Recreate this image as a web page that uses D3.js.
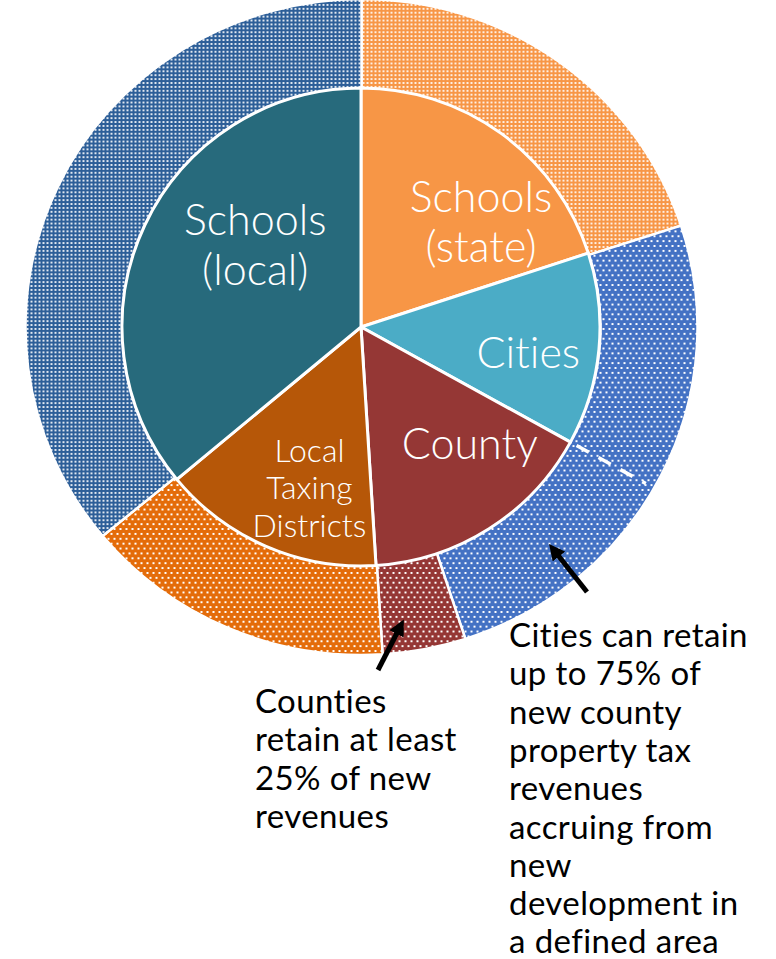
<!DOCTYPE html>
<html>
<head>
<meta charset="utf-8">
<script src="https://cdn.jsdelivr.net/npm/d3@7"></script>
<style>
  body { margin: 0; background: #fff; }
  svg { display: block; }
  text { font-variant-ligatures: none; font-feature-settings: "liga" 0; }
  .slice-label { fill: #fff; font-family: Lato, "Open Sans", sans-serif; font-weight: 300; }
  .note { fill: #000; font-family: Lato, "Open Sans", sans-serif; font-size: 33px; letter-spacing: 0.4px; }
</style>
</head>
<body>
<div id="chart"></div>
<script>
// slices go clockwise from 12 o'clock
var categories = ["Schools (state)", "Cities", "County", "Local Taxing Districts", "Schools (local)"];
// inner pie: share of property tax revenue (%)
var innerValues = [20, 13, 16, 15, 36];
// outer ring: share of new revenues (cities keep up to 75% of county's share)
var outerValues = [20, 25, 4, 15, 36];
var labelLines = [["Schools", "(state)"], ["Cities"], ["County"], ["Local", "Taxing", "Districts"], ["Schools", "(local)"]];
var countyNote = ["Counties", "retain at least", "25% of new", "revenues"];
var citiesNote = ["Cities can retain", "up to 75% of", "new county", "property tax", "revenues", "accruing from", "new", "development in", "a defined area"];

var svgWidth = 776;
var svgHeight = 959;
var cx = 361, cy = 327;
var rPie = 239;
var rRing = 336;

var innerColors = ["#F79646", "#4BACC6", "#953735", "#B65708", "#276A7C"];
var outerColors = ["#F79646", "#4472C4", "#953735", "#E46C0A", "#2C5E98"];
var dense = [true, false, false, false, true];

var svg = d3.select("#chart")
    .append("svg")
    .attr("width", svgWidth)
    .attr("height", svgHeight);

// dotted fills for the outer ring
var defs = svg.append("defs");
outerColors.forEach(function (c, i) {
    var p = defs.append("pattern")
        .attr("id", "pat" + i)
        .attr("patternUnits", "userSpaceOnUse");
    if (dense[i]) {
        p.attr("width", 4).attr("height", 4);
        p.append("rect").attr("width", 4).attr("height", 4).attr("fill", c);
        p.append("rect").attr("x", 1).attr("y", 1).attr("width", 2).attr("height", 2).attr("fill", "#fff").attr("opacity", 0.85);
    } else {
        p.attr("width", 6).attr("height", 10);
        p.append("rect").attr("width", 6).attr("height", 10).attr("fill", c);
        p.append("rect").attr("x", 1).attr("y", 1).attr("width", 2).attr("height", 2).attr("fill", "#fff");
        p.append("rect").attr("x", 4).attr("y", 6).attr("width", 2).attr("height", 2).attr("fill", "#fff");
    }
});

var pie = d3.pie().sort(null).value(function (d) { return d; });
var innerArcs = pie(innerValues);
var outerArcs = pie(outerValues);

// outer ring (slightly squashed vertically like the original)
var ringArc = d3.arc().innerRadius(rPie).outerRadius(rRing);
svg.append("g")
    .attr("transform", "translate(" + (cx + 0.5) + "," + cy + ") scale(1,0.976)")
    .selectAll("path")
    .data(outerArcs)
    .enter()
    .append("path")
    .attr("d", ringArc)
    .attr("fill", function (d, i) { return "url(#pat" + i + ")"; })
    .attr("stroke", "#fff")
    .attr("stroke-width", 2.5);

// inner pie
var pieArc = d3.arc().innerRadius(0).outerRadius(rPie);
var pieG = svg.append("g").attr("transform", "translate(" + cx + "," + cy + ")");
pieG.selectAll("path")
    .data(innerArcs)
    .enter()
    .append("path")
    .attr("d", pieArc)
    .attr("fill", function (d, i) { return innerColors[i]; })
    .attr("stroke", "#fff")
    .attr("stroke-width", 3);

// dashed line: where the county slice would start in the outer ring
var a = innerArcs[1].endAngle;
pieG.append("line")
    .attr("x1", 246 * Math.sin(a)).attr("y1", -246 * Math.cos(a))
    .attr("x2", 325 * Math.sin(a)).attr("y2", -325 * Math.cos(a))
    .attr("stroke", "#fff")
    .attr("stroke-width", 3.5)
    .attr("stroke-dasharray", "14 11");

// slice labels
var labelArc = d3.arc().innerRadius(160).outerRadius(160);
var nudge = [[26, 24], [8, 10], [23, -19], [12, 14], [39, -14]];
var sizes = [43, 43, 43, 32, 43];
var lineH = [50, 50, 50, 37.5, 50];

innerArcs.forEach(function (d, i) {
    var c = labelArc.centroid(d);
    var x = c[0] + nudge[i][0];
    var y = c[1] + nudge[i][1];
    var n = labelLines[i].length;
    var first = y - (n - 1) * lineH[i] / 2 + sizes[i] * 0.36;
    var t = pieG.append("text")
        .attr("class", "slice-label")
        .attr("font-size", sizes[i] + "px")
        .style("text-anchor", "middle");
    labelLines[i].forEach(function (s, j) {
        t.append("tspan").attr("x", x).attr("y", first + j * lineH[i]).text(s);
    });
});

// notes
function note(lines, x, y0) {
    var t = svg.append("text").attr("class", "note");
    lines.forEach(function (s, j) {
        t.append("tspan").attr("x", x).attr("y", y0 + j * 38.3).text(s);
    });
}
note(countyNote, 255, 713);
note(citiesNote, 509, 647);

// arrows
defs.append("marker")
    .attr("id", "head")
    .attr("markerUnits", "userSpaceOnUse")
    .attr("viewBox", "0 0 10 10")
    .attr("refX", 2).attr("refY", 5)
    .attr("markerWidth", 16).attr("markerHeight", 16)
    .attr("orient", "auto")
    .append("path")
    .attr("d", "M0,0 L10,5 L0,10 Z")
    .attr("fill", "#000");

svg.append("line")
    .attr("x1", 378).attr("y1", 670).attr("x2", 398).attr("y2", 631)
    .attr("stroke", "#000").attr("stroke-width", 5)
    .attr("marker-end", "url(#head)");
svg.append("line")
    .attr("x1", 587).attr("y1", 592).attr("x2", 557).attr("y2", 554)
    .attr("stroke", "#000").attr("stroke-width", 5)
    .attr("marker-end", "url(#head)");
</script>
</body>
</html>
